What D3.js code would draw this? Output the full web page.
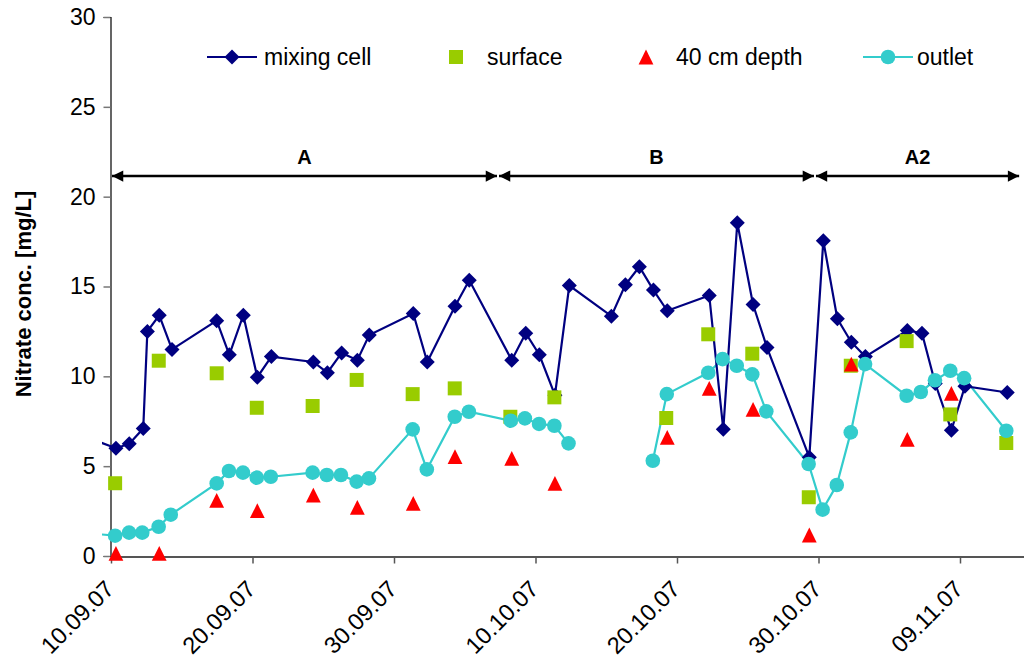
<!DOCTYPE html>
<html>
<head>
<meta charset="utf-8">
<script src="https://cdn.jsdelivr.net/npm/d3@7"></script>
<style>
  html, body { margin: 0; padding: 0; background: #fff; }
  svg { display: block; font-family: "Liberation Sans", Arial, sans-serif; }
</style>
</head>
<body>
<svg id="chart" width="1024" height="664"></svg>
<script>
// Nitrate sampling, Sept–Nov 2007
const mixingDates = [
  "2007-09-09 08:00", "2007-09-10 08:24", "2007-09-11 07:00", "2007-09-12 06:40", "2007-09-12 13:40",
  "2007-09-13 09:50", "2007-09-14 07:30", "2007-09-17 11:15", "2007-09-18 08:40", "2007-09-19 08:24",
  "2007-09-20 08:10", "2007-09-21 08:00", "2007-09-24 07:12", "2007-09-25 07:00", "2007-09-26 07:12",
  "2007-09-27 09:50", "2007-09-28 06:00", "2007-10-01 08:40", "2007-10-02 08:24", "2007-10-04 07:30",
  "2007-10-05 07:40", "2007-10-08 07:40", "2007-10-09 07:30", "2007-10-10 06:30", "2007-10-11 09:00",
  "2007-10-12 09:20", "2007-10-15 08:40", "2007-10-16 08:24", "2007-10-17 08:10", "2007-10-18 08:00",
  "2007-10-19 07:30", "2007-10-22 06:40", "2007-10-23 06:30", "2007-10-24 06:15", "2007-10-25 09:00",
  "2007-10-26 08:40", "2007-10-29 08:24", "2007-10-30 08:10", "2007-10-31 08:00", "2007-11-01 07:40",
  "2007-11-02 07:30", "2007-11-05 06:40", "2007-11-06 07:30", "2007-11-07 06:00", "2007-11-08 09:20",
  "2007-11-09 08:24", "2007-11-12 08:10"
];
const mixingValues = [
  6.3, 6.0, 6.25, 7.1, 12.5,
  13.4, 11.5, 13.1, 11.2, 13.4,
  9.95, 11.1, 10.8, 10.2, 11.3,
  10.9, 12.3, 13.5, 10.8, 13.9,
  15.35, 10.9, 12.4, 11.2, 8.95,
  15.05, 13.35, 15.1, 16.1, 14.8,
  13.65, 14.5, 7.05, 18.55, 14.0,
  11.6, 5.5, 17.55, 13.2, 11.9,
  11.1, 12.55, 12.4, 9.6, 7.0,
  9.45, 9.1
];

const surfaceDates = [
  "2007-09-10 07:00", "2007-09-13 09:00", "2007-09-17 11:15", "2007-09-20 07:15", "2007-09-24 06:00",
  "2007-09-27 08:40", "2007-10-01 07:40", "2007-10-04 07:00", "2007-10-08 05:20", "2007-10-11 08:00",
  "2007-10-19 05:45", "2007-10-22 05:00", "2007-10-25 07:40", "2007-10-29 07:30", "2007-11-01 06:45",
  "2007-11-05 05:30", "2007-11-08 07:30", "2007-11-12 06:30"
];
const surfaceValues = [
  4.05, 10.87, 10.17, 8.25, 8.35,
  9.8, 9.01, 9.33, 7.75, 8.83,
  7.68, 12.34, 11.26, 3.27, 10.59,
  11.96, 7.88, 6.29
];

const depthDates = [
  "2007-09-10 08:24", "2007-09-13 09:50", "2007-09-17 11:15", "2007-09-20 08:10", "2007-09-24 07:12",
  "2007-09-27 09:50", "2007-10-01 08:40", "2007-10-04 07:30", "2007-10-08 07:40", "2007-10-11 09:00",
  "2007-10-19 07:30", "2007-10-22 06:40", "2007-10-25 09:00", "2007-10-29 08:24", "2007-11-01 07:40",
  "2007-11-05 06:40", "2007-11-08 09:20"
];
const depthValues = [
  0.15, 0.15, 3.1, 2.52, 3.39,
  2.71, 2.93, 5.53, 5.43, 4.04,
  6.6, 9.33, 8.16, 1.17, 10.68,
  6.49, 9.05
];

// empty readings (null) on 15–17 Oct break the outlet line
const outletDates = [
  "2007-09-09 08:00", "2007-09-10 07:00", "2007-09-11 06:40", "2007-09-12 05:00", "2007-09-13 08:50",
  "2007-09-14 05:20", "2007-09-17 11:15", "2007-09-18 08:00", "2007-09-19 07:50", "2007-09-20 07:15",
  "2007-09-21 07:00", "2007-09-24 06:00", "2007-09-25 06:00", "2007-09-26 06:00", "2007-09-27 08:40",
  "2007-09-28 05:30", "2007-10-01 07:40", "2007-10-02 07:40", "2007-10-04 07:00", "2007-10-05 07:00",
  "2007-10-08 06:00", "2007-10-09 06:00", "2007-10-10 06:00", "2007-10-11 08:00", "2007-10-12 08:00",
  "2007-10-15 08:00", "2007-10-16 08:00", "2007-10-17 08:00",
  "2007-10-18 07:00", "2007-10-19 06:40", "2007-10-22 05:00", "2007-10-23 05:20", "2007-10-24 05:20",
  "2007-10-25 07:40", "2007-10-26 07:30", "2007-10-29 07:15", "2007-10-30 07:00", "2007-10-31 07:00",
  "2007-11-01 06:45", "2007-11-02 07:00", "2007-11-05 05:30", "2007-11-06 05:30", "2007-11-07 05:30",
  "2007-11-08 07:30", "2007-11-09 07:00", "2007-11-12 06:30"
];
const outletValues = [
  1.2, 1.13, 1.3, 1.3, 1.63,
  2.3, 4.04, 4.73, 4.64, 4.36,
  4.41, 4.64, 4.51, 4.51, 4.14,
  4.32, 7.05, 4.82, 7.75, 8.03,
  7.53, 7.66, 7.35, 7.25, 6.27,
  null, null, null,
  5.3, 9.01, 10.2, 10.96, 10.59,
  10.11, 8.05, 5.12, 2.58, 3.95,
  6.88, 10.68, 8.92, 9.13, 9.78,
  10.31, 9.9, 6.97
];

const tickDates = ["2007-09-10", "2007-09-20", "2007-09-30", "2007-10-10", "2007-10-20", "2007-10-30", "2007-11-09"];
const yTicks = [0, 5, 10, 15, 20, 25, 30];

// operating periods shown as double arrows
const periodLabels = ["A", "B", "A2"];
const periodStarts = ["2007-09-10 00:00", "2007-10-07 08:24", "2007-10-29 18:00"];
const periodEnds   = ["2007-10-07 08:24", "2007-10-29 18:00", "2007-11-13 06:00"];
const periodLevel = 21.15;

const parse = d3.timeParse("%Y-%m-%d %H:%M");
const parseDay = d3.timeParse("%Y-%m-%d");
const fmt = d3.timeFormat("%d.%m.%y");

const zip = (ds, vs) => ds.map((d, i) => ({ date: parse(d), value: vs[i] }));
const mixing = zip(mixingDates, mixingValues);
const surface = zip(surfaceDates, surfaceValues);
const depth = zip(depthDates, depthValues);
const outlet = zip(outletDates, outletValues);

const svg = d3.select("#chart");
const W = 1024, H = 664;
svg.append("rect").attr("width", W).attr("height", H).attr("fill", "#fff");

const x0 = 111, pxPerDay = 14.15;
const xStart = parseDay("2007-09-10"), xEnd = parseDay("2007-11-14");
const x = d3.scaleTime().domain([xStart, xEnd])
  .range([x0, x0 + pxPerDay * d3.timeDay.count(xStart, xEnd)]);
const y = d3.scaleLinear().domain([0, 30]).range([556, 17]);

const colors = { mixing: "#000080", surface: "#99CC00", depth: "#FF0000", outlet: "#33CCCC" };

svg.append("clipPath").attr("id", "plotClip")
  .append("rect").attr("x", 102).attr("y", 0).attr("width", W - 102).attr("height", 562);

// Y axis
const yAxis = svg.append("g").attr("transform", `translate(${x0 - 0.5},0)`)
  .call(d3.axisLeft(y).tickValues(yTicks).tickSize(7).tickPadding(8));
yAxis.select(".domain").attr("stroke", "#000").attr("stroke-width", 1.2);
yAxis.selectAll(".tick line").attr("stroke", "#777").attr("stroke-width", 1.5);
yAxis.selectAll(".tick text").attr("font-size", 23).attr("fill", "#000")
  .attr("font-family", "Liberation Sans, Arial, sans-serif");

// X axis
const xAxis = svg.append("g").attr("transform", `translate(0,${y(0) + 0.5})`)
  .call(d3.axisBottom(x).tickValues(tickDates.map(parseDay)).tickFormat(fmt).tickSize(7).tickSizeOuter(0));
xAxis.select(".domain").attr("stroke", "#555").attr("stroke-width", 2);
xAxis.selectAll(".tick line").attr("stroke", "#555").attr("stroke-width", 1.5);
xAxis.selectAll(".tick text")
  .attr("font-size", 23.5).attr("fill", "#000")
  .attr("font-family", "Liberation Sans, Arial, sans-serif")
  .attr("text-anchor", "end")
  .attr("dy", null).attr("y", 0)
  .attr("transform", "translate(4,34) rotate(-45)");

// Y axis title
svg.append("text")
  .attr("transform", `translate(31,294) rotate(-90)`)
  .attr("text-anchor", "middle")
  .attr("font-size", 22).attr("font-weight", "bold")
  .text("Nitrate conc. [mg/L]");

// Period arrows
const defs = svg.append("defs");
["start", "end"].forEach(k => {
  defs.append("marker").attr("id", "arrow-" + k)
    .attr("viewBox", "0 0 10 10").attr("refX", k === "end" ? 10 : 0).attr("refY", 5)
    .attr("markerWidth", 5).attr("markerHeight", 4.5).attr("markerUnits", "strokeWidth")
    .attr("orient", "auto")
    .append("path")
    .attr("d", k === "end" ? "M0,0 L10,5 L0,10 Z" : "M10,0 L0,5 L10,10 Z")
    .attr("fill", "#000");
});
const periods = periodLabels.map((l, i) => ({ label: l, start: parse(periodStarts[i]), end: parse(periodEnds[i]) }));
const pg = svg.append("g");
pg.selectAll("line").data(periods).join("line")
  .attr("x1", d => x(d.start) + 1).attr("x2", d => x(d.end) - 1)
  .attr("y1", y(periodLevel)).attr("y2", y(periodLevel))
  .attr("stroke", "#000").attr("stroke-width", 2.5)
  .attr("marker-start", "url(#arrow-start)").attr("marker-end", "url(#arrow-end)");
pg.selectAll("text").data(periods).join("text")
  .attr("x", d => (x(d.start) + x(d.end)) / 2)
  .attr("y", y(periodLevel) - 12)
  .attr("text-anchor", "middle")
  .attr("font-size", 20).attr("font-weight", "bold")
  .text(d => d.label);

// Marker shapes
const diamond = s => `M0,${-s} L${s},0 L0,${s} L${-s},0 Z`;
const square = s => `M${-s},${-s} H${s} V${s} H${-s} Z`;
const triangle = s => `M0,${-s} L${s},${s} L${-s},${s} Z`;

const plot = svg.append("g").attr("clip-path", "url(#plotClip)");

const line = d3.line().defined(d => d.value != null)
  .x(d => x(d.date)).y(d => y(d.value));

// outlet
plot.append("path").datum(outlet).attr("d", line)
  .attr("fill", "none").attr("stroke", colors.outlet).attr("stroke-width", 2.2);
// mixing cell
plot.append("path").datum(mixing).attr("d", line)
  .attr("fill", "none").attr("stroke", colors.mixing).attr("stroke-width", 2.2);

const pts = (data, shape, color, cls) => plot.append("g").selectAll("path." + cls)
  .data(data.filter(d => d.value != null && d.date >= xStart)).join("path")
  .attr("class", cls)
  .attr("transform", d => `translate(${x(d.date)},${y(d.value)})`)
  .attr("d", shape).attr("fill", color);

pts(mixing, diamond(7.5), colors.mixing, "mix");
pts(surface, square(7), colors.surface, "surf");
pts(depth, triangle(7.4), colors.depth, "dep");
plot.append("g").selectAll("circle")
  .data(outlet.filter(d => d.value != null && d.date >= xStart)).join("circle")
  .attr("cx", d => x(d.date)).attr("cy", d => y(d.value)).attr("r", 7.3)
  .attr("fill", colors.outlet);

// Legend
const legendItems = [
  { name: "mixing cell", color: colors.mixing, line: true, shape: diamond(7.5), mx: 232, tx: 264 },
  { name: "surface", color: colors.surface, line: false, shape: square(7), mx: 456, tx: 487 },
  { name: "40 cm depth", color: colors.depth, line: false, shape: triangle(7.4), mx: 646, tx: 676 },
  { name: "outlet", color: colors.outlet, line: true, circle: true, mx: 888, tx: 917 }
];
const ly = 57;
const lg = svg.append("g");
legendItems.forEach(it => {
  if (it.line) lg.append("line").attr("x1", it.mx - 25).attr("x2", it.mx + 25)
    .attr("y1", ly).attr("y2", ly).attr("stroke", it.color).attr("stroke-width", 2.2);
  if (it.circle) lg.append("circle").attr("cx", it.mx).attr("cy", ly).attr("r", 7.3).attr("fill", it.color);
  else lg.append("path").attr("transform", `translate(${it.mx},${ly})`).attr("d", it.shape).attr("fill", it.color);
  lg.append("text").attr("x", it.tx).attr("y", ly).attr("dy", "0.35em")
    .attr("font-size", 23).text(it.name);
});
</script>
</body>
</html>
